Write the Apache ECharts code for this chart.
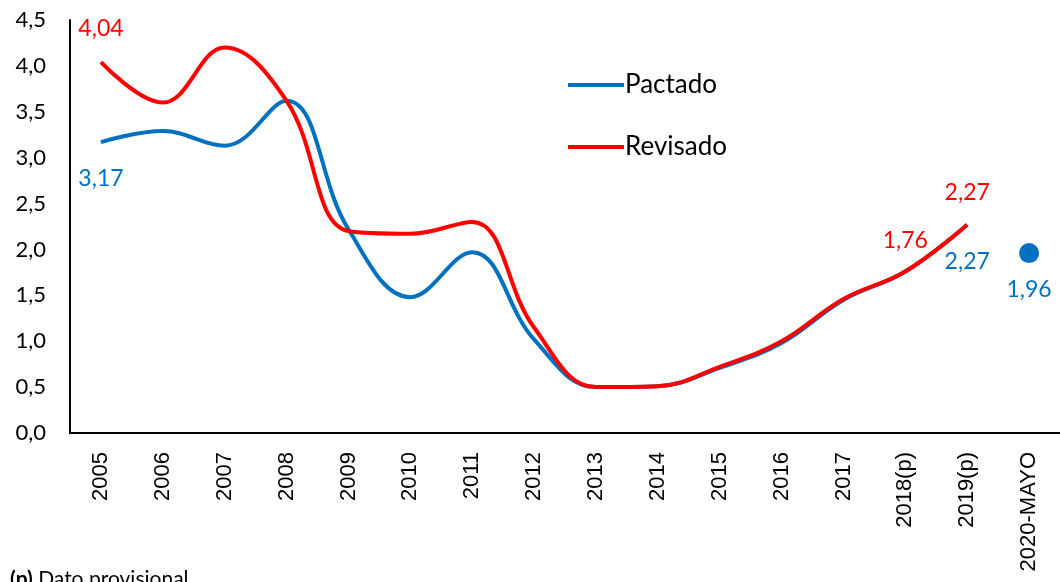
<!DOCTYPE html>
<html>
<head>
<meta charset="utf-8">
<script src="https://cdn.jsdelivr.net/npm/echarts@6/dist/echarts.min.js"></script>
<style>
  html, body { margin: 0; padding: 0; background: #fff; }
  #chart { width: 1060px; height: 582px; }
</style>
</head>
<body>
<div id="chart"></div>
<script>
// categories and values
var years = ['2005', '2006', '2007', '2008', '2009', '2010', '2011', '2012',
    '2013', '2014', '2015', '2016', '2017', '2018(p)', '2019(p)', '2020-MAYO'];
var pactado = [3.17, 3.29, 3.13, 3.62, 2.22, 1.48, 1.97, 1.02, 0.50, 0.51, 0.71, 0.98, 1.45, 1.76, 2.27, null];
var revisado = [4.04, 3.60, 4.20, 3.62, 2.20, 2.17, 2.30, 1.15, 0.50, 0.51, 0.72, 1.00, 1.46, 1.76, 2.27, null];
var mayo2020 = [null, null, null, null, null, null, null, null, null, null, null, null, null, null, null, 1.96];
var yTicks = [0, 0.5, 1, 1.5, 2, 2.5, 3, 3.5, 4, 4.5];

var BLUE = '#0070C0', RED = '#FF0000';

function fmt(v) {
    return v.toFixed(2).replace('.', ',');
}

// which points carry a value label, and where
var pactadoLabels = {0: {position: 'bottom', distance: 25}, 14: {position: 'bottom', distance: 25}};
var revisadoLabels = {0: {position: 'top', distance: 22}, 13: {position: 'top', distance: 19}, 14: {position: 'top', distance: 21}};

function withLabels(values, labels, color) {
    return values.map(function (v, i) {
        if (v === null) return null;
        var item = {value: v};
        if (labels[i]) {
            item.label = {
                show: true,
                position: labels[i].position,
                distance: labels[i].distance,
                color: color,
                fontSize: 23,
                fontFamily: 'Lato',
                formatter: function (p) { return fmt(p.value); }
            };
        }
        return item;
    });
}

var chart = echarts.init(document.getElementById('chart'));
var option = {
    backgroundColor: '#fff',
    animation: false,
    grid: {left: 70, right: -1, top: 20, bottom: 149},
    legend: {
        data: ['Pactado', 'Revisado'],
        orient: 'vertical',
        left: 563,
        top: 67,
        icon: 'rect',
        itemWidth: 56,
        itemHeight: 4,
        itemGap: 36,
        textStyle: {fontSize: 26, fontFamily: 'Lato', color: '#000', padding: [0, 0, 0, -4]}
    },
    xAxis: {
        type: 'category',
        data: years,
        boundaryGap: true,
        axisLine: {lineStyle: {color: '#000', width: 2}},
        axisTick: {show: false},
        axisLabel: {
            rotate: 90,
            interval: 0,
            margin: 19,
            fontSize: 22,
            fontFamily: 'Liberation Sans',
            color: '#000'
        }
    },
    yAxis: {
        type: 'value',
        min: yTicks[0],
        max: yTicks[yTicks.length - 1],
        interval: 0.5,
        splitLine: {show: false},
        axisLine: {show: true, lineStyle: {color: '#000', width: 2}},
        axisTick: {show: false},
        axisLabel: {
            margin: 24,
            fontSize: 22,
            fontFamily: 'Lato',
            color: '#000',
            formatter: function (v) { return v.toFixed(1).replace('.', ','); }
        }
    },
    series: [
        {
            name: 'Pactado',
            type: 'line',
            smooth: 0.4,
            symbol: 'circle',
            symbolSize: 0,
            showSymbol: true,
            color: BLUE,
            lineStyle: {color: BLUE, width: 4},
            data: withLabels(pactado, pactadoLabels, BLUE)
        },
        {
            name: 'Revisado',
            type: 'line',
            smooth: 0.4,
            symbol: 'circle',
            symbolSize: 0,
            showSymbol: true,
            color: RED,
            lineStyle: {color: RED, width: 4},
            data: withLabels(revisado, revisadoLabels, RED)
        },
        {
            name: '2020',
            type: 'line',
            symbol: 'circle',
            symbolSize: 20,
            color: BLUE,
            itemStyle: {color: BLUE},
            label: {
                show: true,
                position: 'bottom',
                distance: 15,
                color: BLUE,
                fontSize: 23,
                fontFamily: 'Lato',
                formatter: function (p) { return fmt(p.value); }
            },
            data: mayo2020
        }
    ],
    graphic: [{
        type: 'text',
        left: 10,
        top: 569,
        style: {
            text: '{b|(p)} Dato provisional',
            rich: {
                b: {fontWeight: 'bold', fontSize: 21, fontFamily: 'Lato', fill: '#000'}
            },
            fontSize: 21,
            fontFamily: 'Lato',
            fill: '#000'
        }
    }]
};
chart.setOption(option);
window.onresize = function () {
    chart.resize();
};
</script>
</body>
</html>
